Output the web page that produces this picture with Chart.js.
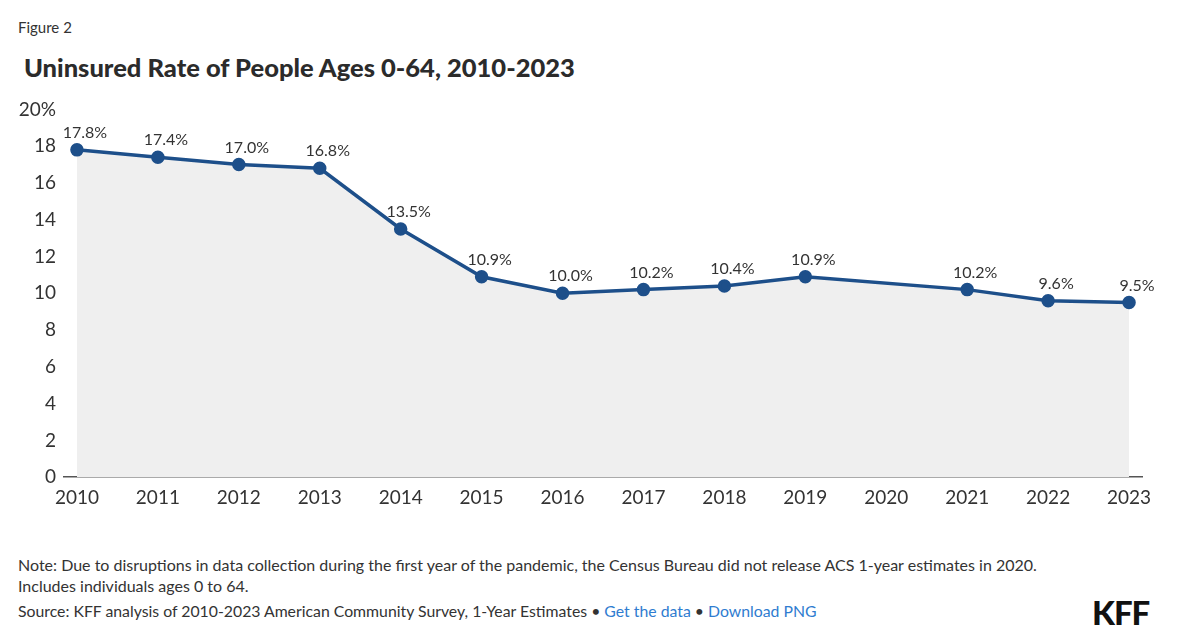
<!DOCTYPE html>
<html>
<head>
<meta charset="utf-8">
<script src="https://cdn.jsdelivr.net/npm/chart.js@4"></script>
<style>
  body { margin: 0; width: 1200px; height: 640px; background: #fff; font-family: Lato, sans-serif; color: #333; position: relative; overflow: hidden; }
  .fig { position: absolute; left: 18px; top: 18px; font-size: 15px; }
  .title { position: absolute; left: 24px; top: 52px; font-size: 25.5px; font-weight: 900; color: #2b2b2b; }
  .note { position: absolute; left: 18px; top: 554px; font-size: 16px; line-height: 21px; }
  .source { position: absolute; left: 18px; top: 601px; font-size: 15.8px; }
  .source a { color: #2f7cd0; text-decoration: none; }
  .logo { position: absolute; left: 1092px; top: 592px; font-size: 33px; font-weight: 900; color: #111; letter-spacing: -1px; }
  #wrap { position: absolute; left: 0; top: 90px; width: 1200px; height: 430px; }
</style>
</head>
<body>
<div class="fig">Figure 2</div>
<div class="title">Uninsured Rate of People Ages 0-64, 2010-2023</div>
<div id="wrap"><canvas id="my-chart"></canvas></div>
<div class="note">Note: Due to disruptions in data collection during the first year of the pandemic, the Census Bureau did not release ACS 1-year estimates in 2020.<br>Includes individuals ages 0 to 64.</div>
<div class="source">Source: KFF analysis of 2010-2023 American Community Survey, 1-Year Estimates &bull; <a>Get the data</a> &bull; <a>Download PNG</a></div>
<div class="logo">KFF</div>
<script>
const years = [2010, 2011, 2012, 2013, 2014, 2015, 2016, 2017, 2018, 2019, 2020, 2021, 2022, 2023];
const uninsured = [17.8, 17.4, 17.0, 16.8, 13.5, 10.9, 10.0, 10.2, 10.4, 10.9, null, 10.2, 9.6, 9.5];
const yTicks = [0, 2, 4, 6, 8, 10, 12, 14, 16, 18, 20];

const blue = '#1d4f8a';

// labels above each point
const pointLabels = {
  id: 'pointLabels',
  afterDatasetsDraw(chart) {
    const { ctx } = chart;
    const meta = chart.getDatasetMeta(0);
    ctx.save();
    ctx.font = '16px Lato';
    ctx.fillStyle = '#333';
    ctx.textAlign = 'center';
    ctx.textBaseline = 'bottom';
    meta.data.forEach((pt, i) => {
      const v = uninsured[i];
      if (v == null) return;
      ctx.fillText(v.toFixed(1) + '%', pt.x + 8, pt.y - 9);
    });
    ctx.restore();
  }
};

const ctx = document.querySelector('#my-chart').getContext('2d');
const chart = new Chart(ctx, {
  type: 'line',
  data: {
    datasets: [{
      data: years.map((yr, i) => ({ x: yr, y: uninsured[i] })),
      borderColor: blue,
      backgroundColor: '#efefef',
      pointBackgroundColor: blue,
      pointBorderColor: blue,
      pointRadius: 5,
      borderWidth: 3.5,
      fill: 'origin',
      spanGaps: true,
      tension: 0
    }]
  },
  options: {
    responsive: true,
    maintainAspectRatio: false,
    animation: false,
    layout: { padding: { top: 19, right: 58, bottom: 2, left: 0 } },
    plugins: { legend: { display: false }, tooltip: { enabled: false } },
    scales: {
      x: {
        type: 'linear',
        min: 2009.84,
        max: 2023.16,
        afterBuildTicks: (axis) => { axis.ticks = years.map(v => ({ value: v })); },
        grid: { display: false, drawTicks: false },
        border: { display: true, color: '#555', width: 1.5 },
        ticks: {
          color: '#333',
          font: { family: 'Lato', size: 19 },
          padding: 9,
          callback: (v) => String(v)
        }
      },
      y: {
        min: 0,
        max: 20,
        afterBuildTicks: (axis) => { axis.ticks = yTicks.map(v => ({ value: v })); },
        afterFit: (axis) => { axis.width = 64; },
        grid: { display: false, drawTicks: false },
        border: { display: false },
        ticks: {
          color: '#333',
          font: { family: 'Lato', size: 19 },
          padding: 8,
          callback: (v) => v === 20 ? '20%' : String(v)
        }
      }
    }
  },
  plugins: [pointLabels]
});
</script>
</body>
</html>
